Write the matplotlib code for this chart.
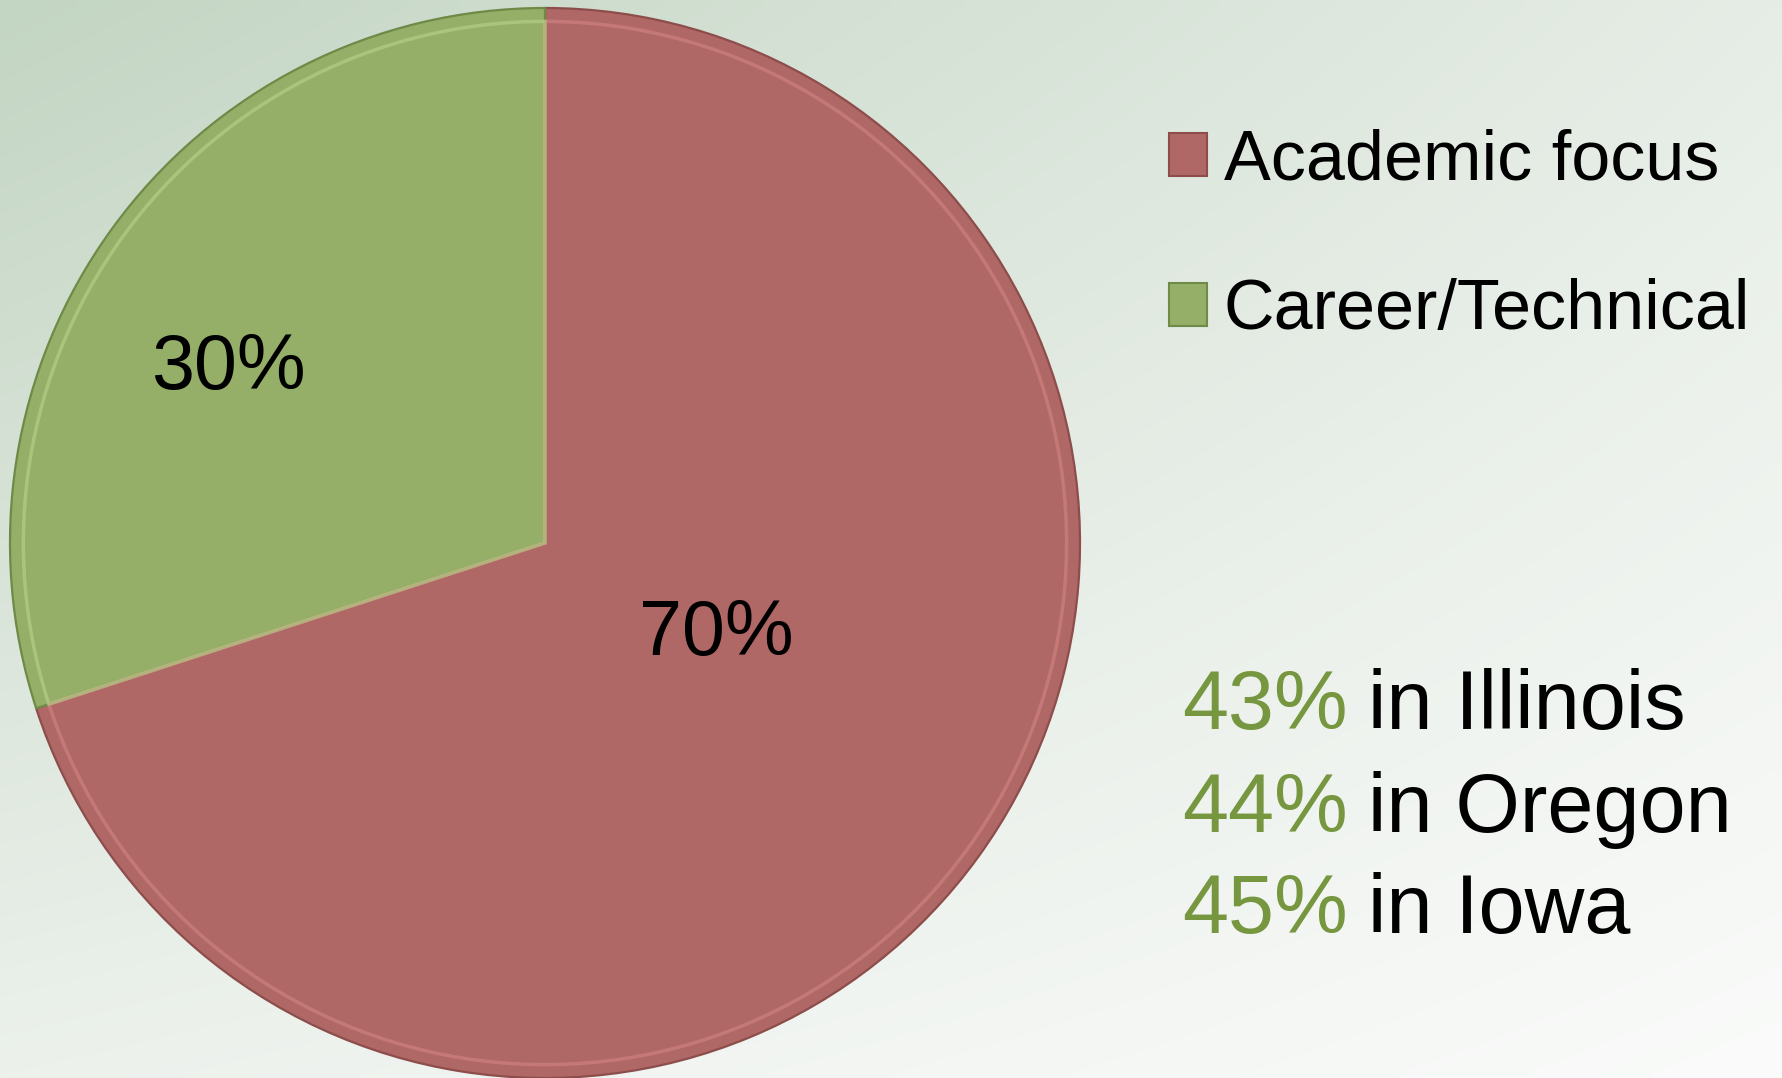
import numpy as np
import matplotlib
matplotlib.use("Agg")
import matplotlib.pyplot as plt
from matplotlib.patches import Patch
from matplotlib.font_manager import FontProperties
from matplotlib.textpath import TextPath

# ---- data ----
categories = ["Academic focus", "Career/Technical"]
shares = [70, 30]
slice_colors = ["#B06866", "#95AE68"]
edge_colors = ["#8C4D4B", "#6E8A47"]
highlight_colors = ["#D98A88", "#C2DA92"]

states = ["Illinois", "Oregon", "Iowa"]
state_pcts = [43, 44, 45]
accent_green = "#76963F"

W, H = 1783, 1078
DPI = 100
PX_PER_PT = DPI / 72

FONT = "Liberation Sans"
FAM = [FONT, "DejaVu Sans"]


def size_for(text, target_px):
    fp = FontProperties(family=FAM)
    w = TextPath((0, 0), text, size=100, prop=fp).get_extents().width
    return 100 * target_px / (w * PX_PER_PT)


fig = plt.figure(figsize=(W / DPI, H / DPI), dpi=DPI)
renderer = fig.canvas.get_renderer()

# ---- background gradient ----
bg = fig.add_axes([0, 0, 1, 1])
bg.set_axis_off()
tl = np.array([195, 213, 195]) / 255
tr_ = np.array([230, 237, 230]) / 255
bl = np.array([236, 241, 236]) / 255
br = np.array([250, 251, 250]) / 255
xs = np.linspace(0, 1, 200)[None, :, None]
ys = np.linspace(0, 1, 120)[:, None, None]
grad = (tl * (1 - xs) * (1 - ys) + tr_ * xs * (1 - ys)
        + bl * (1 - xs) * ys + br * xs * ys)
bg.imshow(grad, aspect="auto", extent=[0, 1, 0, 1], interpolation="bilinear")
bg.set_xlim(0, 1)
bg.set_ylim(0, 1)

# ---- pie ----
cx, cy, r = 545, 535, 535  # pixel centre (y from bottom) and radius
ax = fig.add_axes([(cx - r) / W, (cy - r) / H, 2 * r / W, 2 * r / H])
wedges, _ = ax.pie(shares, colors=slice_colors, startangle=90, counterclock=False,
                   radius=1.0, wedgeprops=dict(linewidth=1.6))
for w, ec in zip(wedges, edge_colors):
    w.set_edgecolor(ec)
hl, _ = ax.pie(shares, colors=["none", "none"], startangle=90, counterclock=False,
               radius=0.975, wedgeprops=dict(linewidth=2.5, alpha=0.5))
for w, hc in zip(hl, highlight_colors):
    w.set_edgecolor(hc)
    w.set_facecolor("none")
ax.set_xlim(-1, 1)
ax.set_ylim(-1, 1)
ax.set_axis_off()

pie_label_size = size_for("70%", 148)
label_pos = [(0.3206, -0.2093), (-0.5925, 0.2879)]
for val, (lx, ly) in zip(shares, label_pos):
    ax.text(lx, ly, f"{val}%", ha="center", va="baseline", fontsize=pie_label_size,
            family=FAM, color="black")

# ---- legend ----
leg_size = size_for("Academic focus", 492)
fs_px = leg_size * PX_PER_PT
handles = [Patch(facecolor=c, edgecolor=e, linewidth=1.5)
           for c, e in zip(slice_colors, edge_colors)]


def make_legend(spacing, anchor_top):
    return fig.legend(handles, categories, loc="upper left",
                      bbox_to_anchor=(1169 / W, 1 - anchor_top / H),
                      bbox_transform=fig.transFigure, frameon=False,
                      handlelength=38 / fs_px, handleheight=39 / fs_px,
                      handletextpad=17 / fs_px, labelspacing=spacing,
                      borderpad=0, borderaxespad=0,
                      prop=dict(family=FAM, size=leg_size))


spacing, top = 1.0, 110
leg = make_legend(spacing, top)
for _ in range(3):
    fig.canvas.draw()
    ext = [h.get_window_extent(renderer) for h in leg.legend_handles]
    t0 = H - ext[0].y1
    t1 = H - ext[1].y1
    spacing += (150 - (t1 - t0)) / fs_px
    top += 133 - t0
    leg.remove()
    leg = make_legend(spacing, top)

# ---- state statistics ----
stat_size = size_for("in Illinois", 309)
base_y = [729, 832, 933]
for pct, st, by in zip(state_pcts, states, base_y):
    fig.text(1182 / W, 1 - by / H, f"{pct}%", color=accent_green, fontsize=stat_size,
             family=FAM, va="baseline", ha="left")
    fig.text(1368 / W, 1 - by / H, f"in {st}", color="black", fontsize=stat_size,
             family=FAM, va="baseline", ha="left")

fig.savefig("out.png", dpi=DPI)
